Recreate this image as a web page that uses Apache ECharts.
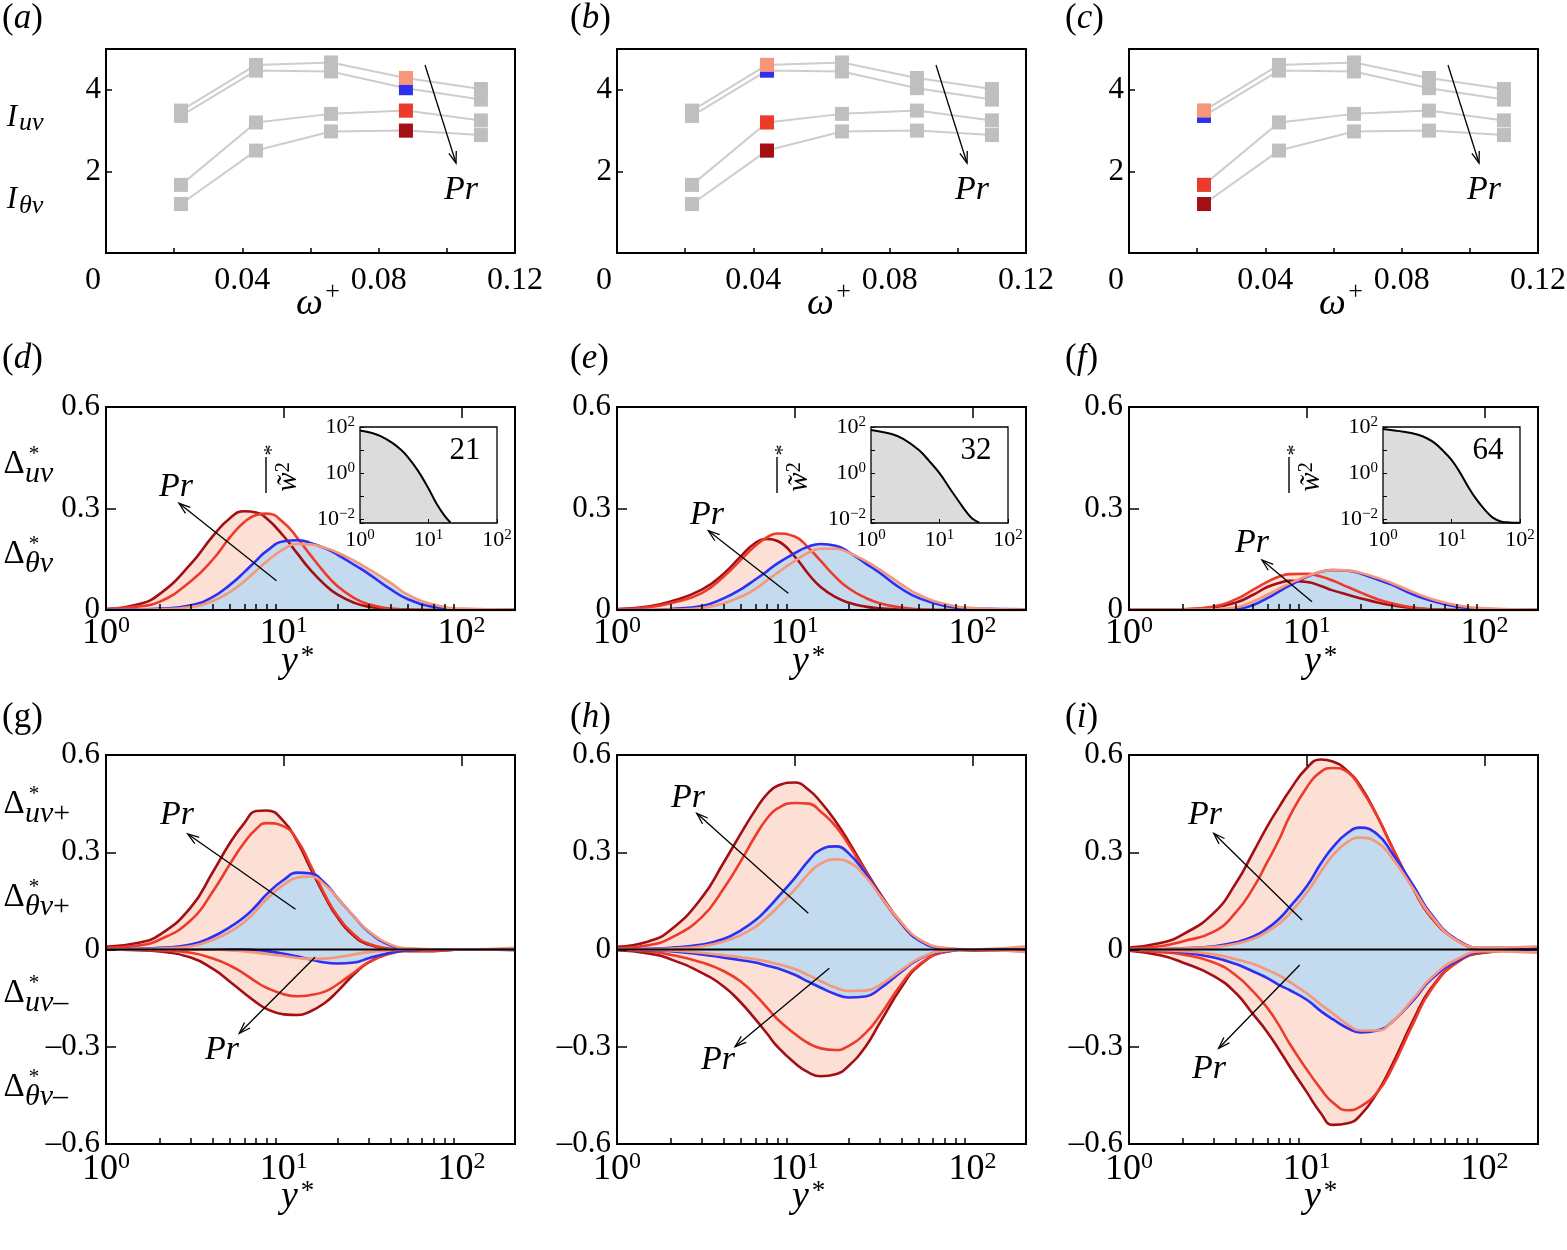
<!DOCTYPE html>
<html><head><meta charset="utf-8">
<script src="https://cdn.jsdelivr.net/npm/echarts@6/dist/echarts.min.js"></script>
<style>html,body{margin:0;padding:0;background:#fff}#c{width:1567px;height:1250px}</style>
</head><body><div id="c"></div>
<script>
// ---------------- DATA ----------------
// Row 1: I_uv / I_theta_v versus omega+
const omega = [0.022, 0.044, 0.066, 0.088, 0.11];
const I1 = [3.49, 4.61, 4.67, 4.29, 4.02];
const I2 = [3.36, 4.47, 4.45, 4.04, 3.76];
const I3 = [1.67, 3.20, 3.41, 3.49, 3.25];
const I4 = [1.20, 2.51, 2.98, 3.00, 2.89];
const highlightIdx = [3, 1, 0];

// Rows 2-3: sampled y* positions
const yStar = [1, 1.5, 2, 3, 4, 5, 6, 7, 8, 10, 12, 14, 17, 20, 25, 30, 40, 50, 70, 100, 200];

// (d)
const dDark = [0.003,0.016,0.047,0.136,0.219,0.272,0.292,0.288,0.271,0.218,0.165,0.121,0.075,0.046,0.021,0.010,0.003,0.001,0,0,0];
const dRed  = [0.003,0.010,0.024,0.085,0.150,0.216,0.260,0.281,0.285,0.258,0.211,0.165,0.110,0.071,0.035,0.017,0.004,0.001,0,0,0];
const dBlue = [0.001,0.002,0.004,0.014,0.039,0.075,0.112,0.146,0.174,0.203,0.206,0.199,0.183,0.164,0.133,0.107,0.061,0.032,0.009,0.002,0.001];
const dSal  = [0,0.001,0.002,0.009,0.027,0.054,0.085,0.116,0.143,0.180,0.195,0.194,0.184,0.170,0.145,0.121,0.080,0.045,0.016,0.004,0.001];
// (e)
const eDark = [0.003,0.010,0.025,0.060,0.108,0.160,0.198,0.210,0.204,0.158,0.105,0.068,0.038,0.022,0.010,0.005,0.001,0,0,0,0];
const eRed  = [0.002,0.008,0.020,0.050,0.100,0.150,0.190,0.215,0.226,0.217,0.183,0.145,0.097,0.065,0.036,0.020,0.007,0.002,0,0,0];
const eBlue = [0,0,0.003,0.012,0.035,0.062,0.090,0.115,0.138,0.168,0.188,0.195,0.190,0.172,0.138,0.110,0.062,0.035,0.012,0.004,0.002];
const eSal  = [0,0,0.001,0.006,0.020,0.040,0.062,0.088,0.110,0.145,0.170,0.181,0.181,0.170,0.145,0.120,0.075,0.045,0.018,0.006,0.001];
// (f)
const fDark = [0.001,0.001,0.002,0.008,0.022,0.045,0.068,0.080,0.086,0.083,0.071,0.058,0.045,0.035,0.022,0.014,0.005,0.002,0,0,0];
const fRed  = [0.001,0.001,0.002,0.010,0.032,0.060,0.083,0.099,0.106,0.107,0.099,0.087,0.068,0.052,0.032,0.020,0.007,0.002,0,0,0];
const fBlue = [0,0,0,0,0.002,0.015,0.035,0.055,0.072,0.098,0.113,0.118,0.116,0.108,0.090,0.075,0.045,0.028,0.010,0.003,0.001];
const fSal  = [0.001,0.001,0.001,0.002,0.008,0.025,0.045,0.063,0.078,0.100,0.113,0.118,0.117,0.110,0.095,0.080,0.052,0.033,0.014,0.005,0.001];

// (g)
const gDarkP = [0.008,0.020,0.045,0.130,0.240,0.330,0.390,0.427,0.429,0.395,0.330,0.255,0.165,0.100,0.040,0.015,0,-0.005,-0.005,0,0];
const gRedP  = [0.005,0.012,0.030,0.090,0.180,0.265,0.330,0.372,0.390,0.380,0.335,0.265,0.170,0.105,0.045,0.018,0.002,-0.003,-0.004,0,0];
const gBlueP = [0,0.002,0.005,0.015,0.040,0.070,0.100,0.135,0.170,0.215,0.237,0.235,0.205,0.160,0.100,0.055,0.012,0.002,0,0.001,-0.002];
const gSalP  = [0,0.001,0.003,0.010,0.030,0.055,0.085,0.120,0.155,0.200,0.222,0.225,0.200,0.160,0.100,0.057,0.015,0.004,0.001,0,0.005];
const gDarkN = [0,-0.002,-0.006,-0.025,-0.060,-0.100,-0.135,-0.163,-0.183,-0.200,-0.202,-0.192,-0.165,-0.130,-0.075,-0.040,-0.010,-0.003,0,0,0];
const gRedN  = [0,-0.001,-0.003,-0.010,-0.028,-0.050,-0.075,-0.100,-0.118,-0.138,-0.144,-0.141,-0.130,-0.108,-0.070,-0.040,-0.012,-0.004,0,0,0];
const gBlueN = [0,0,0,0,0,0,0,-0.002,-0.005,-0.013,-0.022,-0.030,-0.040,-0.043,-0.040,-0.027,-0.010,-0.003,0,0,0];
const gSalN  = [0,0,0,0,0,-0.003,-0.006,-0.010,-0.014,-0.020,-0.026,-0.029,-0.028,-0.024,-0.015,-0.008,-0.002,0,0,0,0];
// (h)
const hDarkP = [0.008,0.025,0.060,0.160,0.270,0.360,0.430,0.480,0.505,0.515,0.492,0.455,0.395,0.335,0.245,0.175,0.080,0.030,0.003,-0.003,0];
const hRedP  = [0.004,0.013,0.035,0.100,0.190,0.275,0.350,0.405,0.435,0.452,0.450,0.425,0.380,0.325,0.240,0.170,0.078,0.030,0.003,-0.002,0];
const hBlueP = [0,0.002,0.005,0.015,0.033,0.060,0.090,0.125,0.160,0.220,0.275,0.308,0.318,0.298,0.235,0.170,0.080,0.028,0.003,0,0];
const hSalP  = [0,0.001,0.003,0.010,0.025,0.045,0.070,0.100,0.130,0.185,0.235,0.265,0.278,0.270,0.225,0.168,0.082,0.032,0.005,0,0.010];
const hDarkN = [-0.002,-0.012,-0.030,-0.072,-0.115,-0.165,-0.215,-0.260,-0.300,-0.350,-0.380,-0.391,-0.385,-0.360,-0.300,-0.228,-0.115,-0.050,-0.008,0,0];
const hRedN  = [-0.001,-0.006,-0.016,-0.040,-0.067,-0.100,-0.140,-0.180,-0.215,-0.260,-0.290,-0.305,-0.310,-0.298,-0.258,-0.205,-0.105,-0.047,-0.008,0,0];
const hBlueN = [0,-0.002,-0.005,-0.015,-0.025,-0.033,-0.040,-0.050,-0.058,-0.078,-0.100,-0.118,-0.138,-0.148,-0.145,-0.122,-0.068,-0.030,-0.005,0,0];
const hSalN  = [0,-0.001,-0.003,-0.010,-0.018,-0.024,-0.030,-0.037,-0.045,-0.060,-0.080,-0.098,-0.118,-0.128,-0.127,-0.110,-0.063,-0.028,-0.004,0,-0.008];
// (i)
const iDarkP = [0.006,0.020,0.046,0.113,0.205,0.300,0.380,0.440,0.490,0.560,0.586,0.580,0.550,0.505,0.410,0.320,0.185,0.100,0.030,0.003,0.005];
const iRedP  = [0.003,0.010,0.025,0.055,0.115,0.190,0.270,0.340,0.410,0.500,0.548,0.560,0.547,0.500,0.410,0.318,0.185,0.100,0.028,0.002,0];
const iBlueP = [0,0.001,0.004,0.010,0.022,0.040,0.065,0.095,0.130,0.195,0.265,0.315,0.360,0.376,0.355,0.300,0.195,0.110,0.030,0.005,0.005];
const iSalP  = [0,0.001,0.003,0.008,0.018,0.033,0.055,0.080,0.110,0.175,0.240,0.290,0.332,0.345,0.330,0.285,0.185,0.105,0.028,0.005,0.010];
const iDarkN = [-0.004,-0.018,-0.040,-0.082,-0.135,-0.200,-0.255,-0.310,-0.360,-0.440,-0.505,-0.541,-0.536,-0.512,-0.440,-0.360,-0.215,-0.120,-0.040,-0.010,0];
const iRedN  = [-0.002,-0.008,-0.015,-0.040,-0.080,-0.130,-0.180,-0.235,-0.290,-0.370,-0.430,-0.472,-0.496,-0.485,-0.440,-0.370,-0.225,-0.125,-0.040,-0.008,0];
const iBlueN = [0,-0.003,-0.008,-0.025,-0.045,-0.068,-0.088,-0.110,-0.125,-0.155,-0.190,-0.215,-0.243,-0.256,-0.250,-0.225,-0.155,-0.093,-0.035,-0.005,0];
const iSalN  = [0,-0.002,-0.005,-0.015,-0.030,-0.045,-0.063,-0.080,-0.100,-0.135,-0.170,-0.197,-0.232,-0.250,-0.250,-0.225,-0.150,-0.088,-0.030,-0.005,-0.010];

// Insets: spanwise energy spectra
const insDx = [1, 1.5, 2, 3, 4, 5, 7, 10, 13, 17, 21];
const insDy = [70, 55, 40, 20, 10, 5, 1.3, 0.22, 0.05, 0.015, 0.0072];
const insEx = [1, 2, 3, 5, 7, 10, 15, 20, 25, 30, 38];
const insEy = [75, 50, 30, 10, 3.5, 1.0, 0.17, 0.05, 0.02, 0.011, 0.0072];
const insFx = [1, 2, 3.25, 4.5, 5.7, 7.5, 10, 13, 17.5, 23, 30.7, 40, 54, 70, 89, 100];
const insFy = [82, 62, 46, 31, 20, 9.5, 3.8, 1.2, 0.26, 0.075, 0.026, 0.012, 0.008, 0.0074, 0.0072, 0.0072];
const insetNumbers = ['21', '32', '64'];

// tick labels / tick positions
const omegaLabels = ['0', '0.04', '0.08', '0.12'];
const logMinorTicks = [2,3,4,5,6,7,8,9,20,30,40,50,60,70,80,90];
const logMajorTicks = [10, 100];
const logLabelTicks = [1, 10, 100];
const panelLetters = ['a','b','c','d','e','f','g','h','i'];

// ---------------- STYLE / LAYOUT ----------------
const FONT = '"Liberation Serif", serif';
const C_DARK = '#a30f14', C_RED = '#ee3a2b', C_SAL = '#f8967a', C_BLUE = '#2f2ff2';
const F_PINK = '#fde0d5', F_BLUE = '#c4daee', F_GRAY = '#dcdcdc';
const colLeft = [106, 617, 1129], W = 409;
const rowTop = [49, 407, 755], rowH = [204, 203, 389];

const grids = [], xAxes = [], yAxes = [], series = [], graphics = [];
const pairs = (xs, ys) => xs.map((x, i) => [x, ys[i]]);

function addGrid(l, t, w, h, bg) {
  grids.push({left: l, top: t, width: w, height: h, show: !!bg, borderWidth: 0,
    backgroundColor: bg || 'transparent', containLabel: false, outerBoundsMode: 'none'});
  graphics.push({type: 'rect', z: 60, shape: {x: l, y: t, width: w, height: h},
    style: {fill: null, stroke: '#000', lineWidth: bg ? 1.3 : 2}});
  return grids.length - 1;
}
const supRich = (b, s) => ({
  b: {fontSize: b, lineHeight: b + 3, fontFamily: FONT, color: '#000'},
  s: {fontSize: s, lineHeight: s - 2, verticalAlign: 'top', fontFamily: FONT, color: '#000'}
});
const tickStyle = {color: '#000', width: 1.5};
const noLine = {show: false, onZero: false};

// ---------- Row 1 ----------
for (let p = 0; p < 3; p++) {
  const g = addGrid(colLeft[p], rowTop[0], W, rowH[0]);
  xAxes.push({type: 'value', gridIndex: g, min: 0, max: 0.12, interval: 0.02, z: 10,
    axisLine: noLine, splitLine: {show: false},
    axisTick: {inside: true, length: 5, lineStyle: tickStyle},
    axisLabel: {fontFamily: FONT, fontSize: 32, color: '#000', margin: 12,
      rich: {z: {fontFamily: FONT, fontSize: 32, color: '#000', padding: [0, 26, 0, 0]}},
      formatter: v => { const k = Math.round(v / 0.02); if (k % 2) return '';
        return k === 0 ? '{z|' + omegaLabels[0] + '}' : omegaLabels[k / 2]; }}});
  yAxes.push({type: 'value', gridIndex: g, min: 0, max: 5, interval: 2, z: 10,
    axisLine: noLine, splitLine: {show: false},
    axisTick: {inside: true, length: 6, lineStyle: tickStyle},
    axisLabel: {fontFamily: FONT, fontSize: 31, color: '#000', margin: 5,
      formatter: v => (v === 2 || v === 4) ? String(v) : ''}});
  const xi = xAxes.length - 1, yi = yAxes.length - 1;
  [I1, I2, I3, I4].forEach(arr => {
    series.push({type: 'line', xAxisIndex: xi, yAxisIndex: yi, data: pairs(omega, arr),
      symbol: 'rect', symbolSize: 14, showSymbol: true,
      lineStyle: {color: '#cdcdcd', width: 2}, itemStyle: {color: '#bfbfbf', opacity: 1}, z: 2, silent: true});
  });
  const k = highlightIdx[p];
  [[I2, C_BLUE], [I1, C_SAL], [I3, C_RED], [I4, C_DARK]].forEach(([arr, c]) => {
    series.push({type: 'scatter', xAxisIndex: xi, yAxisIndex: yi, data: [[omega[k], arr[k]]],
      symbol: 'rect', symbolSize: 14, itemStyle: {color: c, opacity: 1}, z: 4, silent: true});
  });
}

// ---------- log x-axis helper ----------
function logAxes(g, margin) {
  xAxes.push({type: 'log', logBase: 10, gridIndex: g, min: 1, max: 200, z: 10,
    axisLine: noLine, splitLine: {show: false},
    axisTick: {inside: true, length: 6, customValues: logMinorTicks, lineStyle: tickStyle},
    axisLabel: {customValues: logLabelTicks, margin: margin,
      formatter: v => '{b|10}{s|' + Math.round(Math.log10(v)) + '}', rich: supRich(36, 24)}});
  const xi = xAxes.length - 1;
  xAxes.push({type: 'log', logBase: 10, gridIndex: g, min: 1, max: 200, z: 10,
    axisLine: noLine, splitLine: {show: false}, axisLabel: {show: false},
    axisTick: {inside: true, length: 11, customValues: logMajorTicks, lineStyle: tickStyle}});
  return xi;
}
function valYAxis(g, min) {
  yAxes.push({type: 'value', gridIndex: g, min: min, max: 0.6, interval: 0.3, z: 10,
    axisLine: noLine, splitLine: {show: false},
    axisTick: {inside: true, length: 10, lineStyle: tickStyle},
    axisLabel: {fontFamily: FONT, fontSize: 31, color: '#000', margin: 6,
      formatter: v => Math.abs(v) < 1e-9 ? '0' : (v < 0 ? '\u2013' : '') + Math.abs(v).toFixed(1)}});
  return yAxes.length - 1;
}
function fill(xi, yi, arr, color) {
  series.push({type: 'line', xAxisIndex: xi, yAxisIndex: yi, data: pairs(yStar, arr), smooth: 0.5,
    showSymbol: false, symbol: 'none', lineStyle: {width: 0, opacity: 0}, areaStyle: {color: color, opacity: 1},
    z: 2, silent: true});
}
function curve(xi, yi, arr, color) {
  series.push({type: 'line', xAxisIndex: xi, yAxisIndex: yi, data: pairs(yStar, arr), smooth: 0.5,
    showSymbol: false, symbol: 'none', lineStyle: {width: 2.6, color: color}, z: 3, silent: true});
}

// ---------- Row 2 ----------
const row2 = [
  {dark: dDark, red: dRed, blue: dBlue, sal: dSal, ix: insDx, iy: insDy},
  {dark: eDark, red: eRed, blue: eBlue, sal: eSal, ix: insEx, iy: insEy},
  {dark: fDark, red: fRed, blue: fBlue, sal: fSal, ix: insFx, iy: insFy}
];
row2.forEach((d, p) => {
  const g = addGrid(colLeft[p], rowTop[1], W, rowH[1]);
  const xi = logAxes(g, 4), yi = valYAxis(g, 0);
  fill(xi, yi, d.dark, F_PINK); fill(xi, yi, d.red, F_PINK);
  fill(xi, yi, d.blue, F_BLUE); fill(xi, yi, d.sal, F_BLUE);
  curve(xi, yi, d.dark, C_DARK); curve(xi, yi, d.red, C_RED);
  curve(xi, yi, d.blue, C_BLUE); curve(xi, yi, d.sal, C_SAL);
  // inset
  const IL = colLeft[p] + 254, IT = 427;
  const gi = addGrid(IL, IT, 137, 96, '#fff');
  xAxes.push({type: 'log', logBase: 10, gridIndex: gi, min: 1, max: 100, z: 10,
    axisLine: noLine, splitLine: {show: false},
    axisTick: {inside: true, length: 4, lineStyle: {color: '#000', width: 1}},
    axisLabel: {margin: 5, formatter: v => '{b|10}{s|' + Math.round(Math.log10(v)) + '}', rich: supRich(22, 15)}});
  yAxes.push({type: 'log', logBase: 10, gridIndex: gi, min: 0.007, max: 100, z: 10,
    axisLine: noLine, splitLine: {show: false},
    axisTick: {inside: true, length: 4, lineStyle: {color: '#000', width: 1}},
    axisLabel: {margin: 5, formatter: v => { const e = Math.round(Math.log10(v));
      if (Math.abs(Math.log10(v) - e) > 1e-6 || e % 2 !== 0) return '';
      return '{b|10}{s|' + (e < 0 ? '\u2212' + (-e) : e) + '}'; }, rich: supRich(22, 15)}});
  series.push({type: 'line', xAxisIndex: xAxes.length - 1, yAxisIndex: yAxes.length - 1,
    data: pairs(d.ix, d.iy), smooth: 0.4, showSymbol: false, symbol: 'none',
    lineStyle: {color: '#000', width: 2}, areaStyle: {color: F_GRAY, opacity: 1, origin: 'start'}, z: 3, silent: true});
  // inset labels
  graphics.push({type: 'text', z: 100, x: IL + 105, y: IT + 24,
    style: {text: insetNumbers[p], font: '31px ' + FONT, fill: '#000', align: 'center', verticalAlign: 'middle'}});
  graphics.push({type: 'text', z: 100, x: IL - 72, y: IT + 50, rotation: Math.PI / 2,
    style: {text: '{w|w\u0303}{s|2}', align: 'center', verticalAlign: 'middle',
      rich: {w: {font: 'italic 29px ' + FONT, fill: '#000', lineHeight: 29},
             s: {font: '20px ' + FONT, fill: '#000', lineHeight: 15, verticalAlign: 'top'}}}});
  graphics.push({type: 'line', z: 100, shape: {x1: IL - 94, y1: IT + 30, x2: IL - 94, y2: IT + 66},
    style: {stroke: '#000', lineWidth: 1.4}});
  graphics.push({type: 'text', z: 100, x: IL - 88, y: IT + 23, rotation: Math.PI / 2,
    style: {text: '*', font: '22px ' + FONT, fill: '#000', align: 'center', verticalAlign: 'middle'}});
});

// ---------- Row 3 ----------
const row3 = [
  {dp: gDarkP, rp: gRedP, bp: gBlueP, sp: gSalP, dn: gDarkN, rn: gRedN, bn: gBlueN, sn: gSalN},
  {dp: hDarkP, rp: hRedP, bp: hBlueP, sp: hSalP, dn: hDarkN, rn: hRedN, bn: hBlueN, sn: hSalN},
  {dp: iDarkP, rp: iRedP, bp: iBlueP, sp: iSalP, dn: iDarkN, rn: iRedN, bn: iBlueN, sn: iSalN}
];
row3.forEach((d, p) => {
  const g = addGrid(colLeft[p], rowTop[2], W, rowH[2]);
  const xi = logAxes(g, 6), yi = valYAxis(g, -0.6);
  fill(xi, yi, d.dp, F_PINK); fill(xi, yi, d.rp, F_PINK); fill(xi, yi, d.dn, F_PINK); fill(xi, yi, d.rn, F_PINK);
  fill(xi, yi, d.bp, F_BLUE); fill(xi, yi, d.sp, F_BLUE); fill(xi, yi, d.bn, F_BLUE); fill(xi, yi, d.sn, F_BLUE);
  curve(xi, yi, d.dp, C_DARK); curve(xi, yi, d.rp, C_RED); curve(xi, yi, d.bp, C_BLUE); curve(xi, yi, d.sp, C_SAL);
  curve(xi, yi, d.dn, C_DARK); curve(xi, yi, d.rn, C_RED); curve(xi, yi, d.bn, C_BLUE); curve(xi, yi, d.sn, C_SAL);
  series.push({type: 'line', xAxisIndex: xi, yAxisIndex: yi, data: [[1, 0], [200, 0]], showSymbol: false,
    symbol: 'none', lineStyle: {color: '#000', width: 2}, z: 5, silent: true});
});

// ---------------- ANNOTATIONS ----------------
function txt(x, y, text, font, align) {
  graphics.push({type: 'text', z: 100, x: x, y: y,
    style: {text: text, font: font, fill: '#000', align: align || 'center', verticalAlign: 'middle'}});
}
function arrow(x1, y1, x2, y2) {
  const dx = x2 - x1, dy = y2 - y1, L = Math.hypot(dx, dy), ux = dx / L, uy = dy / L, a = 0.33, len = 12;
  const c = Math.cos(a), s = Math.sin(a);
  const p1 = [x2 - len * (ux * c - uy * s), y2 - len * (uy * c + ux * s)];
  const p2 = [x2 - len * (ux * c + uy * s), y2 - len * (uy * c - ux * s)];
  graphics.push({type: 'line', z: 100, shape: {x1: x1, y1: y1, x2: x2, y2: y2}, style: {stroke: '#000', lineWidth: 1.3}});
  graphics.push({type: 'polyline', z: 100, shape: {points: [p1, [x2, y2], p2]}, style: {stroke: '#000', fill: null, lineWidth: 1.3}});
}
const PR = 'italic 34px ' + FONT;
// row 1 arrows
[0, 511, 1023].forEach(off => { arrow(425 + off, 65, 456 + off, 163); txt(461 + off, 190, 'Pr', PR); });
// row 2 arrows
arrow(276.5, 580.7, 179, 503.3); txt(176, 487, 'Pr', PR);
arrow(788.3, 593.3, 708.3, 530.7); txt(707, 515, 'Pr', PR);
arrow(1312, 601.7, 1262, 560); txt(1252, 543, 'Pr', PR);
// row 3 arrows
arrow(295.5, 909.3, 187.7, 834); txt(177, 815, 'Pr', PR);
arrow(315, 957.3, 239.3, 1033.3); txt(222, 1050, 'Pr', PR);
arrow(808.3, 913.3, 696.7, 813.3); txt(688, 798, 'Pr', PR);
arrow(829.3, 968.3, 735, 1046.7); txt(718, 1060, 'Pr', PR);
arrow(1302, 920, 1213.7, 833.3); txt(1205, 815, 'Pr', PR);
arrow(1299.7, 965, 1218.7, 1048.3); txt(1209, 1069, 'Pr', PR);

// panel letters
const letterX = [2, 570, 1065], letterY = [19, 359, 718];
panelLetters.forEach((l, i) => {
  const r = Math.floor(i / 3), c = i % 3;
  graphics.push({type: 'text', z: 100, x: letterX[c], y: letterY[r],
    style: {text: '{n|(}{' + (l === 'g' ? 'n' : 'i') + '|' + l + '}{n|)}', align: 'left', verticalAlign: 'middle',
      rich: {n: {font: '35px ' + FONT, fill: '#000'}, i: {font: 'italic 35px ' + FONT, fill: '#000'}}}});
});

// axis names
colLeft.forEach(L => {
  const cx = L + W / 2;
  txt(cx - 1, 304, '\u03c9', 'italic 38px ' + FONT);
  txt(cx + 22, 292, '+', '26px ' + FONT);
  txt(cx - 21, 662, 'y', 'italic 38px ' + FONT);
  txt(cx - 3, 657, '*', '27px ' + FONT);
  txt(cx - 21, 1197, 'y', 'italic 38px ' + FONT);
  txt(cx - 3, 1192, '*', '27px ' + FONT);
});

// y-axis names (left column)
function sub(x, y, parts, size) {
  graphics.push({type: 'text', z: 100, x: x, y: y,
    style: {text: parts.map(s => '{' + s[0] + '|' + s[1] + '}').join(''), align: 'left', verticalAlign: 'middle',
      rich: {i: {font: 'italic ' + size + 'px ' + FONT, fill: '#000'}, n: {font: size + 'px ' + FONT, fill: '#000'}}}});
}
// I_uv, I_theta v
txt(12, 118, 'I', 'italic 31px ' + FONT);
sub(19, 123, [['i', 'uv']], 26);
txt(12, 200, 'I', 'italic 31px ' + FONT);
sub(19, 206, [['i', '\u03b8v']], 26);
// Delta labels: baseline positions
function delta(baseline, parts) {
  txt(14, baseline - 11, '\u0394', '33px ' + FONT);
  txt(34, baseline - 21, '*', '21px ' + FONT);
  sub(25, baseline - 1, parts, 30);
}
delta(475, [['i', 'uv']]);
delta(565, [['i', '\u03b8v']]);
delta(815, [['i', 'uv'], ['n', '+']]);
delta(908, [['i', '\u03b8v'], ['n', '+']]);
delta(1004, [['i', 'uv'], ['n', '\u2013']]);
delta(1098, [['i', '\u03b8v'], ['n', '\u2013']]);

const chart = echarts.init(document.getElementById('c'), null, {renderer: 'canvas'});
chart.setOption({
  animation: false,
  backgroundColor: '#fff',
  textStyle: {fontFamily: FONT, color: '#000'},
  grid: grids, xAxis: xAxes, yAxis: yAxes, series: series, graphic: graphics
});
</script>
</body></html>
